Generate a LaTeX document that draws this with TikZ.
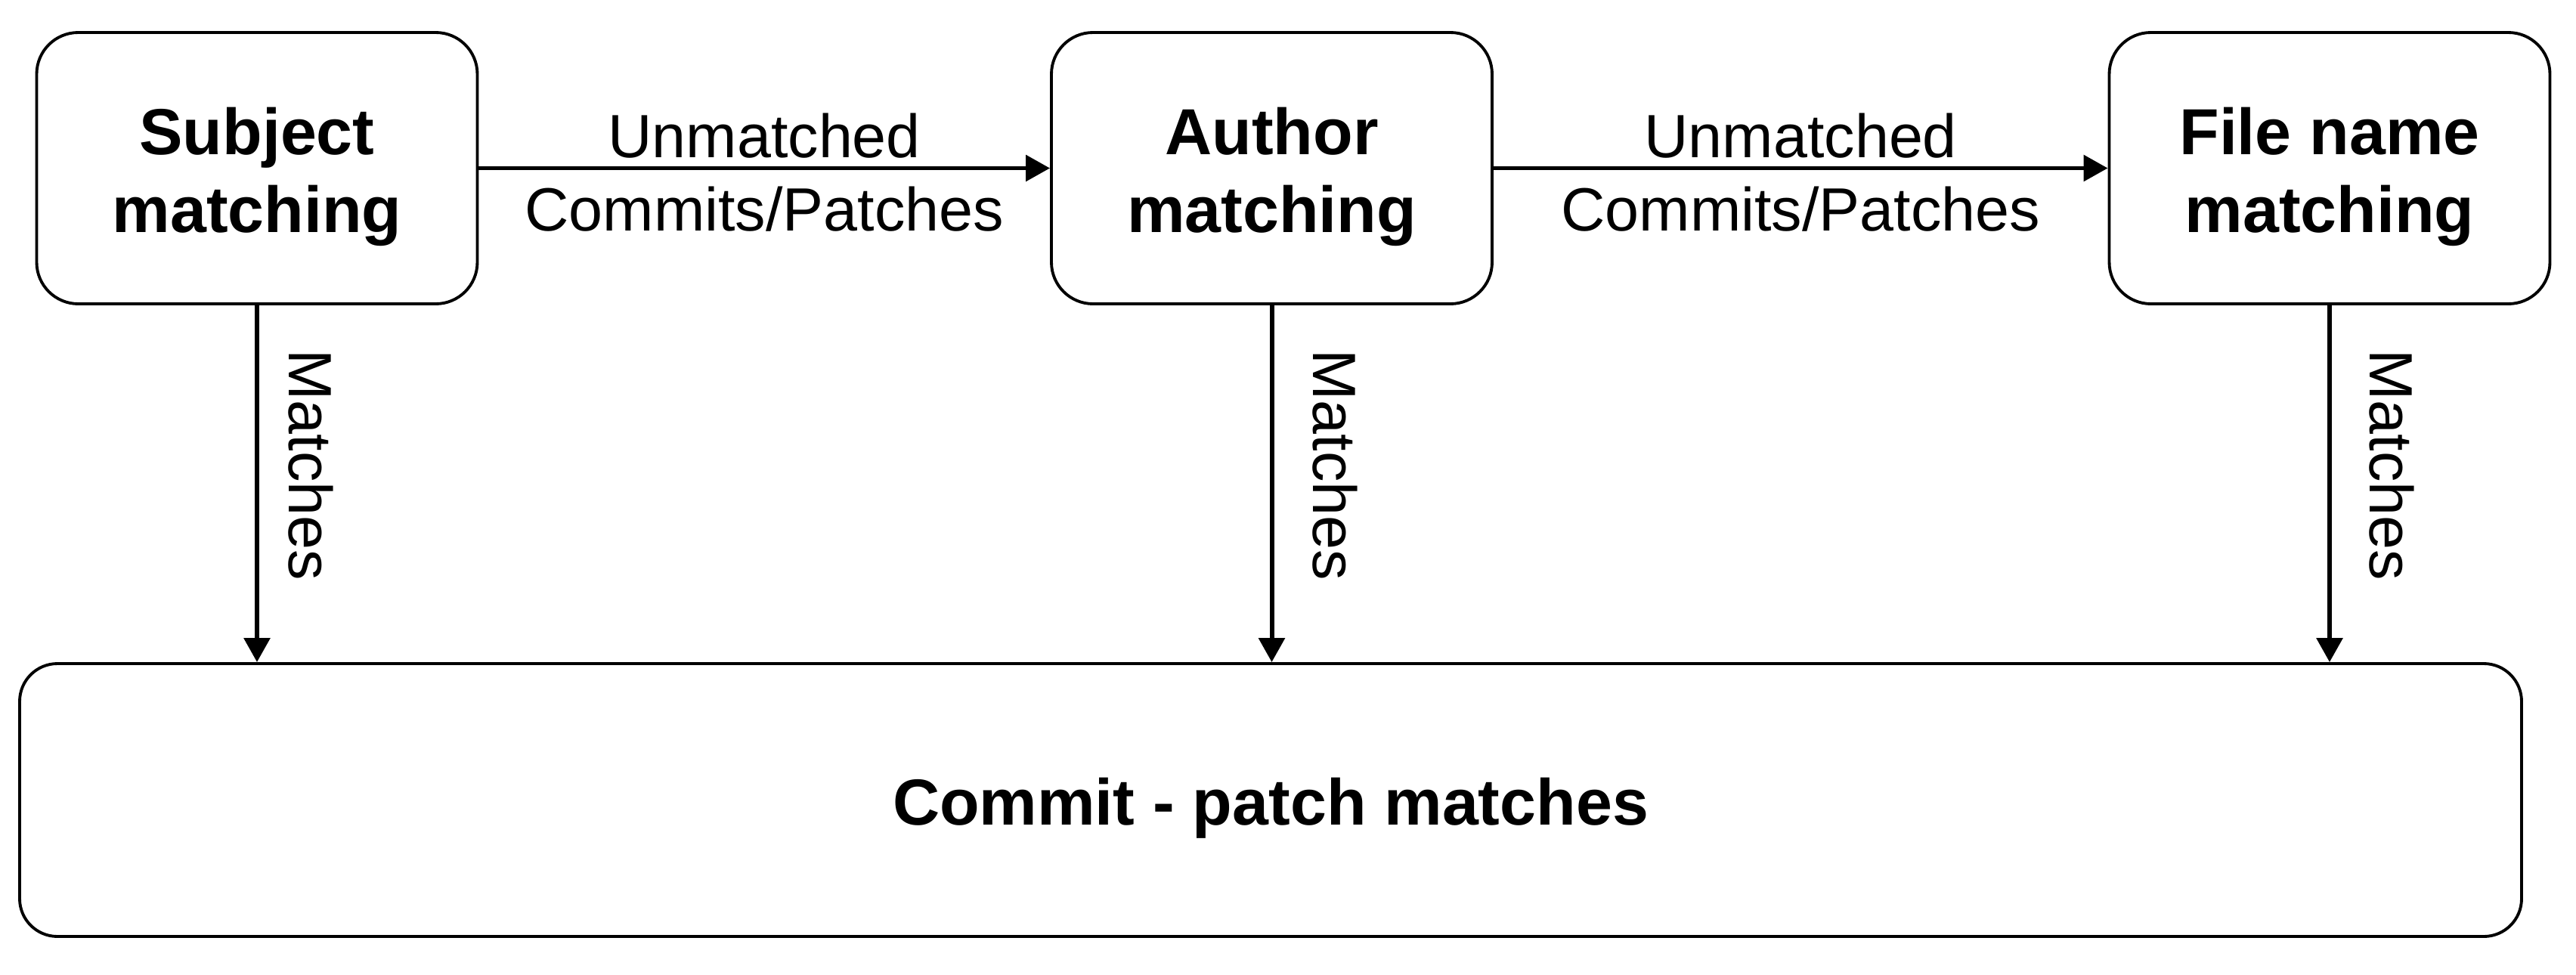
\documentclass[tikz,border=0pt]{standalone}
\usepackage{fontspec}
\setmainfont{Liberation Sans}
\usetikzlibrary{arrows.meta}
\newcommand{\topstrut}{\rule{0pt}{0.85cm}}
\newcommand{\botstrut}{\rule[-0.18cm]{0pt}{0pt}}
\tikzset{
  stagebox/.style={draw=black, line width=1.1pt, rounded corners=0.55cm, fill=white,
    minimum width=5.83cm, minimum height=3.59cm, align=center, inner sep=0pt,
    font=\fontsize{24.5}{29.5}\selectfont\bfseries},
  resultbox/.style={draw=black, line width=1.1pt, rounded corners=0.5cm, fill=white,
    minimum width=33.10cm, minimum height=3.61cm, inner sep=0pt,
    text height=0.83cm, text depth=0.18cm,
    font=\fontsize{24.5}{29.5}\selectfont\bfseries},
  flow/.style={line width=1.7pt, -{Triangle[length=0.32cm, width=0.34cm]}},
  edgetext/.style={font=\fontsize{23}{27.6}\selectfont, inner sep=0pt},
}
\begin{document}
\begin{tikzpicture}
\useasboundingbox (0,0) rectangle (34.08,-12.90);
\node[stagebox] (sub) at (3.40,-2.225) {\topstrut Subject\\matching\botstrut};
\node[stagebox] (auth) at (16.825,-2.225) {\topstrut Author\\matching\botstrut};
\node[stagebox] (file) at (30.82,-2.225) {\topstrut File name\\matching\botstrut};
\node[resultbox] (res) at (16.81,-10.585) {Commit - patch matches};

\draw[flow] (sub.east) -- (auth.west)
  node[edgetext, pos=0.5, anchor=base, yshift=0.14cm] (u1) {Unmatched}
  node[edgetext, pos=0.5, anchor=base, yshift=-0.83cm] (c1) {Commits/Patches};
\draw[flow] (auth.east) -- (file.west)
  node[edgetext, pos=0.5, anchor=base, yshift=0.14cm] (u2) {Unmatched}
  node[edgetext, pos=0.5, anchor=base, yshift=-0.83cm] (c2) {Commits/Patches};

\draw[flow] (sub.south) -- (sub.south |- res.north);
\draw[flow] (auth.south) -- (auth.south |- res.north);
\draw[flow] (file.south) -- (file.south |- res.north);

\node[edgetext, rotate=-90, anchor=base] (m1) at (3.82,-6.15) {Matches};
\node[edgetext, rotate=-90, anchor=base] (m2) at (17.37,-6.15) {Matches};
\node[edgetext, rotate=-90, anchor=base] (m3) at (31.35,-6.15) {Matches};
\end{tikzpicture}
\end{document}
